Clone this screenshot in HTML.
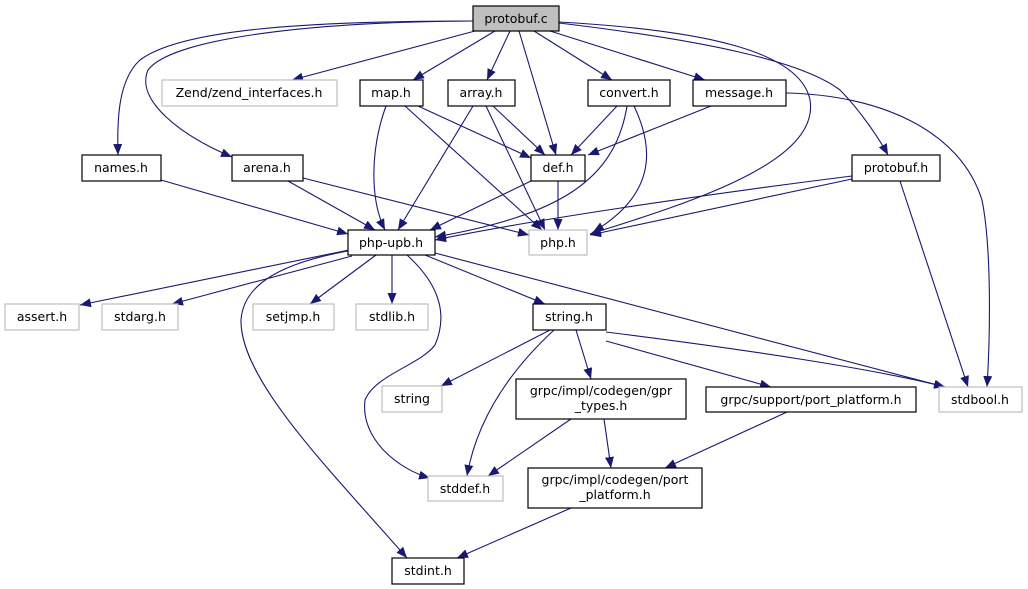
<!DOCTYPE html>
<html><head><meta charset="utf-8"><style>
html,body{margin:0;padding:0;background:#fff;}
svg{display:block;}
text{font-family:"DejaVu Sans","Liberation Sans",sans-serif;font-size:12.5px;fill:#000;text-anchor:middle;}
.e{fill:none;stroke:#191970;stroke-width:1.1;marker-end:url(#a);}
.n{fill:#fff;stroke:#000;stroke-width:1.2;}
.g{fill:#fff;stroke:#bfbfbf;stroke-width:1.2;}
</style></head><body>
<svg width="1028" height="589" viewBox="0 0 1028 589" xmlns="http://www.w3.org/2000/svg">
<defs><marker id="a" markerUnits="userSpaceOnUse" markerWidth="12" markerHeight="10" refX="11" refY="4.5" orient="auto"><path d="M0,0 L11,4.5 L0,9 z" fill="#191970"/></marker></defs>
<path class="e" d="M473,21 C300,21 180,30 140,60 C118,80 117,120 118,155"/>
<path class="e" d="M473,21 C300,22 170,40 148,70 C135,100 180,135 232,157"/>
<path class="e" d="M475,31 L292,80"/>
<path class="e" d="M495,31 L413,80"/>
<path class="e" d="M510,31 L487,80"/>
<path class="e" d="M519,31 L556,155"/>
<path class="e" d="M534,31 L612,80"/>
<path class="e" d="M550,31 L705,80"/>
<path class="e" d="M559,22 C700,30 800,50 810,100 C820,160 700,200 590,234"/>
<path class="e" d="M559,23 C700,40 800,60 840,90 C860,110 880,140 888,155"/>
<path class="e" d="M386,106 C370,150 370,200 385,230"/>
<path class="e" d="M418,106 L531,158"/>
<path class="e" d="M405,106 L542,230"/>
<path class="e" d="M473,106 L398,230"/>
<path class="e" d="M493,106 L545,155"/>
<path class="e" d="M486,106 L545,230"/>
<path class="e" d="M617,106 L571,155"/>
<path class="e" d="M627,106 C615,180 560,215 435,237"/>
<path class="e" d="M634,106 C655,150 655,195 593,232"/>
<path class="e" d="M711,106 L588,155"/>
<path class="e" d="M786,93 C880,95 960,130 982,200 C992,250 990,340 987,387"/>
<path class="e" d="M161,180 L348,234"/>
<path class="e" d="M288,181 L375,230"/>
<path class="e" d="M303,178 L529,235"/>
<path class="e" d="M531,181 L430,230"/>
<path class="e" d="M558,181 L558,230"/>
<path class="e" d="M852,176 C700,195 520,222 435,240"/>
<path class="e" d="M852,179 L590,235"/>
<path class="e" d="M900,181 L968,387"/>
<path class="e" d="M349,250 L80,305"/>
<path class="e" d="M352,256 L172,304"/>
<path class="e" d="M376,255 L310,304"/>
<path class="e" d="M392,255 L392,304"/>
<path class="e" d="M407,255 C440,285 448,315 435,345 C420,365 375,375 365,400 C360,440 400,470 430,478"/>
<path class="e" d="M348,251 C270,265 243,290 241,320 C240,380 330,470 407,558"/>
<path class="e" d="M425,255 L545,304"/>
<path class="e" d="M435,253 L945,387"/>
<path class="e" d="M550,330 L441,386"/>
<path class="e" d="M554,330 C500,380 475,430 467,476"/>
<path class="e" d="M576,330 L591,379"/>
<path class="e" d="M606,341 L771,387"/>
<path class="e" d="M606,332 C750,350 880,370 945,387"/>
<path class="e" d="M571,419 L488,476"/>
<path class="e" d="M604,419 L611,468"/>
<path class="e" d="M787,412 L665,468"/>
<path class="e" d="M571,508 L457,558"/>
<rect x="473" y="6" width="86" height="25" fill="#bfbfbf" stroke="#000" stroke-width="1.2"/><text x="516" y="23">protobuf.c</text>
<rect class="g" x="162" y="80" width="175" height="26"/><text x="249" y="97">Zend/zend_interfaces.h</text>
<rect class="n" x="360" y="80" width="63" height="26"/><text x="391" y="97">map.h</text>
<rect class="n" x="448" y="80" width="67" height="26"/><text x="481" y="97">array.h</text>
<rect class="n" x="588" y="80" width="82" height="26"/><text x="629" y="97">convert.h</text>
<rect class="n" x="693" y="80" width="93" height="26"/><text x="739" y="97">message.h</text>
<rect class="n" x="82" y="155" width="79" height="26"/><text x="121" y="172">names.h</text>
<rect class="n" x="232" y="155" width="71" height="26"/><text x="267" y="172">arena.h</text>
<rect class="n" x="531" y="155" width="54" height="26"/><text x="558" y="172">def.h</text>
<rect class="n" x="852" y="155" width="88" height="26"/><text x="896" y="172">protobuf.h</text>
<rect class="n" x="348" y="230" width="87" height="25"/><text x="391" y="247">php-upb.h</text>
<rect class="g" x="529" y="230" width="58" height="25"/><text x="558" y="247">php.h</text>
<rect class="g" x="5" y="304" width="74" height="26"/><text x="42" y="321">assert.h</text>
<rect class="g" x="102" y="304" width="76" height="26"/><text x="140" y="321">stdarg.h</text>
<rect class="g" x="253" y="304" width="81" height="26"/><text x="293" y="321">setjmp.h</text>
<rect class="g" x="356" y="304" width="72" height="26"/><text x="392" y="321">stdlib.h</text>
<rect class="n" x="533" y="304" width="73" height="26"/><text x="569" y="321">string.h</text>
<rect class="g" x="382" y="386" width="60" height="26"/><text x="412" y="403">string</text>
<rect class="n" x="516" y="379" width="170" height="40"/><text x="601" y="395">grpc/impl/codegen/gpr</text><text x="601" y="410">_types.h</text>
<rect class="n" x="706" y="387" width="210" height="25"/><text x="811" y="404">grpc/support/port_platform.h</text>
<rect class="g" x="939" y="387" width="83" height="25"/><text x="980" y="404">stdbool.h</text>
<rect class="g" x="428" y="476" width="75" height="25"/><text x="465" y="493">stddef.h</text>
<rect class="n" x="528" y="468" width="174" height="40"/><text x="615" y="484">grpc/impl/codegen/port</text><text x="615" y="499">_platform.h</text>
<rect class="n" x="392" y="558" width="72" height="26"/><text x="428" y="575">stdint.h</text>
</svg>
</body></html>
